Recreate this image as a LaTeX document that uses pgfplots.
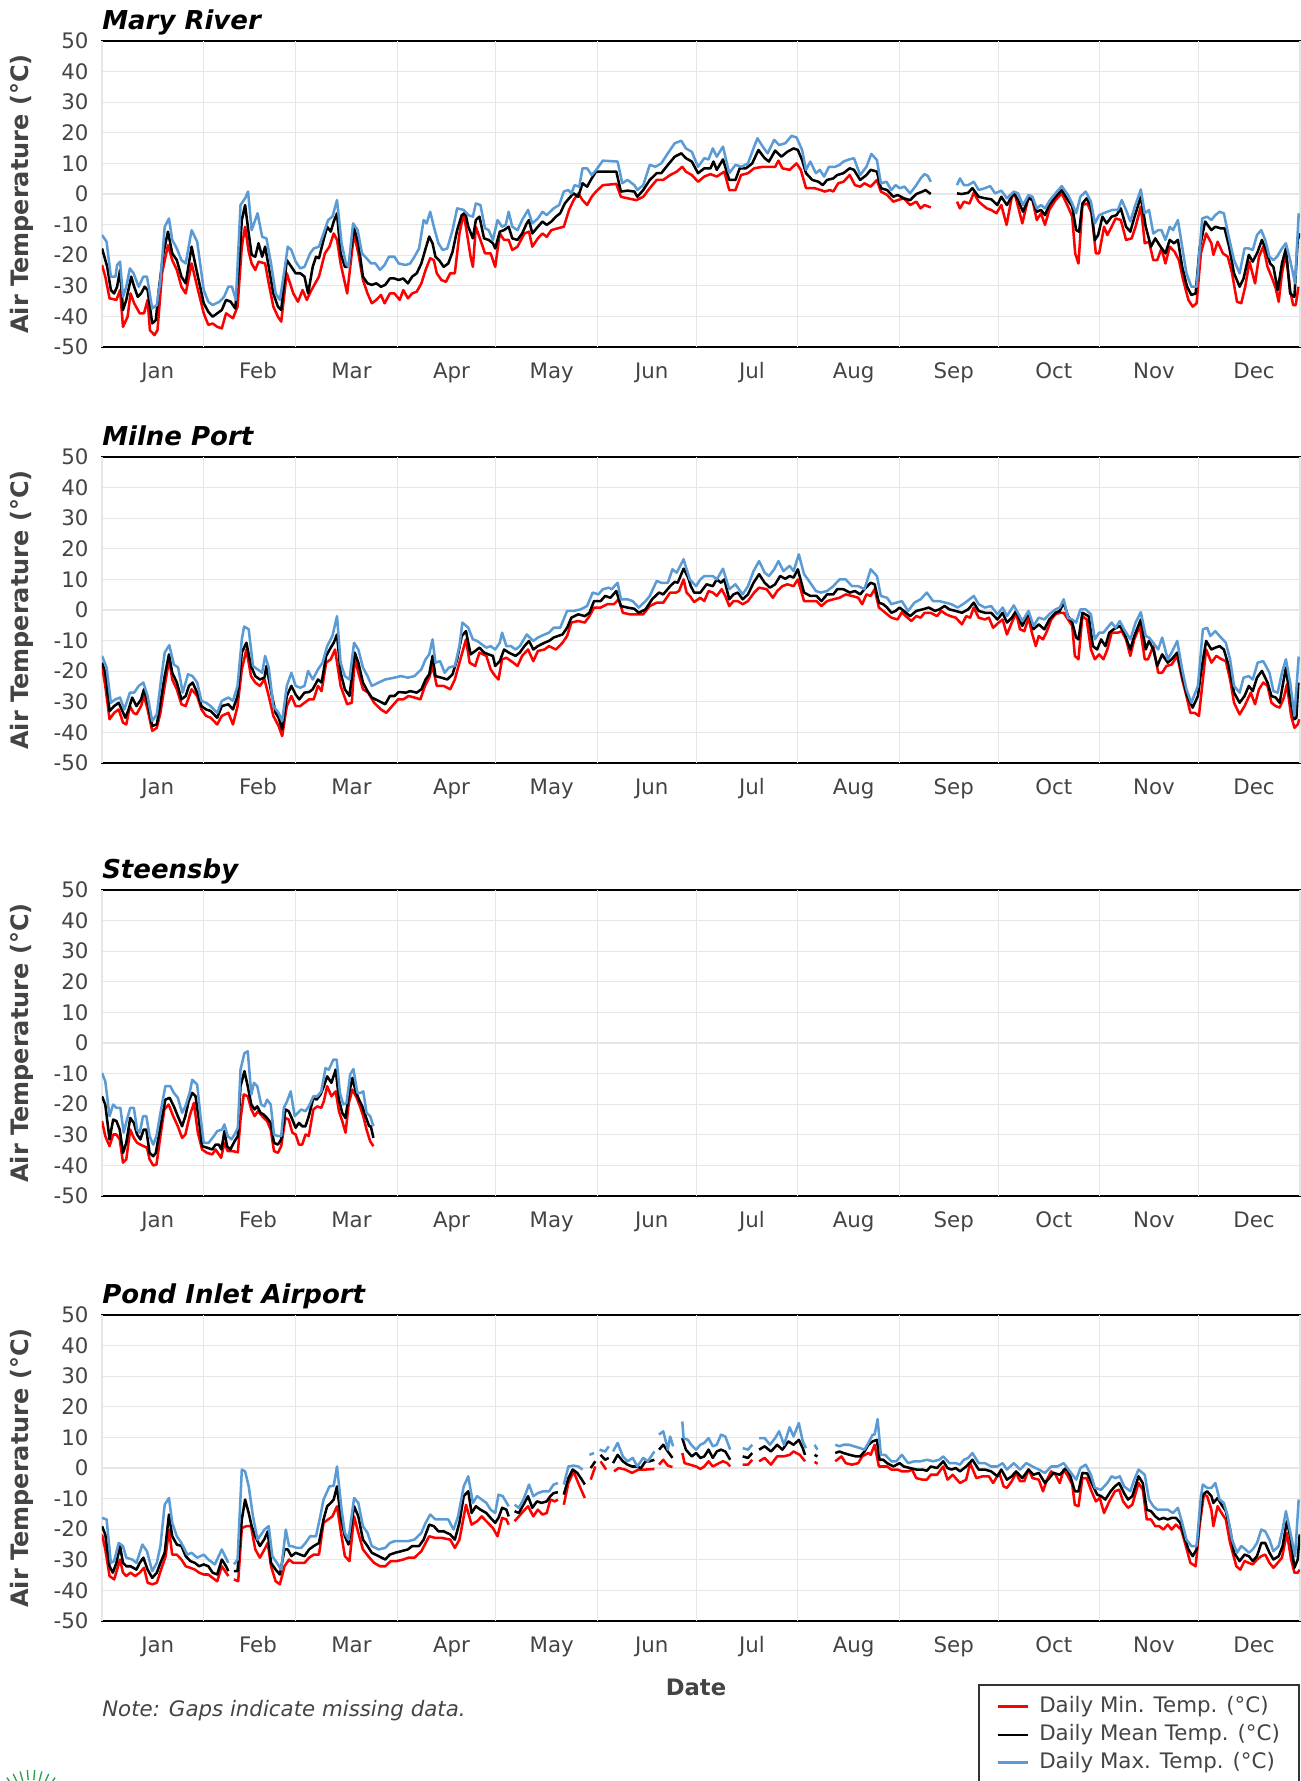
\documentclass[border=0pt]{standalone}
\usepackage{pgfplots}
\pgfplotsset{compat=1.18}
\usetikzlibrary{calc}
\usepackage{fontspec}
\setmainfont{DejaVu Sans}
\definecolor{tmin}{HTML}{FF0000}
\definecolor{tmax}{HTML}{5B9BD5}
\definecolor{lab}{HTML}{444444}
\definecolor{gridc}{HTML}{E6E6E6}
\definecolor{logo}{HTML}{2E9D4A}
\newcommand{\ticksize}{\fontsize{16pt}{19pt}\selectfont}
\newcommand{\titlesize}{\fontsize{19.5pt}{23pt}\selectfont\bfseries\itshape}
\pgfplotsset{
  panel/.style={
    anchor=north west, scale only axis, width=898.5pt, height=229.5pt,
    xmin=0, xmax=365, ymin=-50, ymax=50,
    axis line style={black, line width=1.1pt},
    ytick={-50,-40,...,50},
    yticklabels={-50,-40,-30,-20,-10,0,10,20,30,40,50},
    ymajorgrids, major grid style={draw=gridc, line width=0.8pt},
    ytick style={draw=none},
    yticklabel style={anchor=east, inner sep=0pt, xshift=-10pt, font=\ticksize, text=lab},
    xtick={17,47.5,76,106.5,137,167.5,198,229,259.5,290,320.5,351},
    xticklabels={Jan,Feb,Mar,Apr,May,Jun,Jul,Aug,Sep,Oct,Nov,Dec},
    xtick style={draw=none},
    xtick pos=bottom,
    xticklabel style={anchor=base, inner sep=0pt, yshift=-23.25pt, font=\ticksize, text=lab},
    extra x ticks={0,31,59,90,120,151,181,212,243,273,304,334,365},
    extra x tick labels={,,,,,,,,,,,,},
    extra x tick style={grid=major, tick align=outside, major tick length=3.3pt, tick style={draw=black, line width=1pt}},
    ylabel={Air Temperature (°C)},
    ylabel style={at={(axis description cs:-0.0668,0.5)}, anchor=center, font=\fontsize{18pt}{21pt}\selectfont\bfseries, text=lab},
    every axis title shift=0pt,
    title style={at={(axis description cs:0,1)}, anchor=base west, yshift=8.5pt, inner sep=0pt, font=\titlesize},
    unbounded coords=jump,
    every axis plot/.append style={line width=1.9pt, line join=round, mark=none},
  }
}
\begin{document}
\begin{tikzpicture}
\useasboundingbox (0,0) rectangle (975.75pt,-1335.75pt);
% ---------------- Mary River ----------------
\begin{axis}[panel, at={(76.5pt,-30.75pt)}, title={Mary River}]
\addplot[tmin] coordinates {(0,-23.2)(1,-27)(2.3,-34.1)(4.4,-34.6)(5.5,-31.4)(6.4,-43.4)(7.8,-40.1)(8.7,-32.5)(9.8,-35.7)(11.5,-39)(12.8,-39)(13.9,-34.6)(14.6,-44.5)(16,-46.1)(16.9,-44.5)(18.3,-25.9)(20.1,-16.7)(21.4,-21.6)(22.8,-24.8)(24.2,-30.3)(25.5,-32.5)(27.3,-22.7)(29,-30.3)(31,-39)(32.4,-42.8)(33.7,-42.3)(35.1,-43.4)(36.5,-43.9)(37.8,-39)(39.9,-40.6)(41.3,-36.8)(42.6,-17.2)(43.6,-10.7)(44.7,-18.9)(45.6,-22.7)(46.7,-24.8)(47.7,-22.1)(49.7,-22.7)(50.8,-29.2)(52.2,-36.8)(53.6,-40.1)(54.6,-41.7)(56.3,-25.9)(58.3,-32.5)(59.7,-35.2)(61.1,-31.4)(62.4,-34.6)(63.8,-31.4)(66.1,-27)(67.9,-19.4)(69.3,-17.2)(70.6,-12.9)(71.6,-15)(72.7,-22.7)(74.7,-32.5)(76.8,-12.9)(78.1,-19.4)(79.5,-28.1)(80.9,-32.5)(82.2,-35.7)(83.6,-34.6)(85,-33)(86.1,-35.7)(87.7,-32.5)(89.1,-32.5)(90.7,-34.6)(91.8,-31.4)(93.2,-34.1)(94.5,-32.5)(95.9,-31.9)(97.3,-29.2)(98.6,-24.8)(100,-21)(101.1,-21.6)(102,-25.9)(103.4,-28.1)(104.8,-28.7)(106.1,-25.9)(107.5,-25.9)(108.9,-12.9)(110.2,-6.3)(111.2,-12.9)(112.3,-20.5)(113,-23.8)(113.9,-10.7)(115.3,-15)(116.7,-19.4)(118.4,-19.4)(119.8,-23.8)(121.2,-12.9)(122.5,-15)(123.9,-15)(125,-18.3)(126.6,-17.2)(128.7,-12.9)(130.1,-12.3)(131.1,-17.2)(132.8,-14.5)(134.2,-12.9)(135.5,-14)(136.9,-11.8)(138.9,-11.2)(140.7,-10.7)(142.3,-5.2)(143.7,-2)(145.1,0.2)(146.4,-2)(147.8,-3.6)(149.2,-0.9)(150.5,0.8)(152.6,2.9)(156.7,3.3)(158.1,-0.9)(160.1,-1.4)(162.8,-2)(164.9,-0.9)(166.9,1.9)(169,4.6)(171,4.6)(173.1,6.2)(175.1,7.3)(176.8,8.9)(177.9,7.3)(179.7,6.2)(181.6,4)(183.5,5.7)(185.4,6.5)(187.3,5.7)(189.6,7.3)(191.1,1.3)(193,1.3)(194.7,6.2)(196.8,6.8)(198.7,8.4)(201.3,8.9)(203.2,8.9)(205.1,8.9)(206.1,10.9)(207.3,8.4)(209.5,7.9)(211.6,10)(212.9,7.9)(214.5,1.9)(217.1,1.9)(219,1.3)(220.2,0.8)(221.8,1.3)(222.8,0.8)(224.3,3.5)(225.9,4)(227.8,6.2)(229.4,2.9)(231,2.4)(232.3,3.5)(234.2,2.4)(236.1,4.6)(237.3,0.8)(239.2,-0.3)(241.1,-2.5)(242.4,-2)(244.3,-1.4)(246.2,-3.6)(248.1,-2.5)(249.4,-4.7)(250.6,-3.6)(252.5,-4.4)(256,nan)(260.5,-2.5)(261.4,-4.7)(262.6,-2.5)(264.3,-3.1)(265.6,0.4)(267.1,-2.5)(268.3,-3.6)(269.6,-4.7)(270.9,-5.2)(272.5,-6.3)(274,-3.6)(275.6,-10.1)(277.2,-0.9)(278.2,-0.3)(280.4,-9.6)(282.3,-0.9)(283.5,-2)(284.8,-8.5)(286.1,-6.3)(287.3,-10.1)(288.6,-5.2)(290.5,-2)(292.4,0.2)(294.3,-4.1)(295.6,-7.4)(296.5,-19.4)(297.5,-22.7)(298.7,-3.6)(300.2,-3.1)(301.5,-6.3)(302.8,-19.4)(303.8,-19.4)(305.3,-10.7)(306.3,-13.4)(307.6,-10.7)(308.8,-8)(310.4,-8.5)(312,-15)(313.7,-14.5)(314.9,-10.7)(316.5,-4.1)(317.7,-16.1)(319,-15.6)(320.3,-21.6)(321.5,-21.6)(322.8,-17.8)(324,-22.7)(325.3,-17.2)(326.8,-18.9)(328.1,-21.6)(329.4,-28.1)(331,-34.6)(332.3,-36.8)(333.5,-35.7)(334.8,-19.4)(336.4,-12.9)(338,-16.1)(338.6,-19.9)(339.9,-15.6)(341.5,-19.4)(343,-20.5)(344.3,-25.9)(345.8,-35.2)(347.1,-35.7)(348.3,-30.3)(349.6,-22.1)(351.3,-29.2)(352.5,-20.5)(353.8,-17.2)(355.1,-23.8)(356.3,-27)(357.6,-30.8)(358.5,-35.2)(359.5,-25.9)(360.7,-19.4)(362,-31.4)(362.9,-36.3)(363.7,-36.3)(364.5,-30.3)};
\addplot[black] coordinates {(0,-17.8)(1.6,-23.8)(2.7,-31.4)(3.7,-32.5)(4.6,-30.3)(5.5,-24.8)(6.4,-37.9)(7.4,-34.6)(8.9,-27)(9.8,-30.3)(10.9,-33.6)(11.9,-32.5)(13,-30.3)(13.9,-31.4)(15.3,-42.3)(16.4,-41.2)(17.3,-31.4)(18.7,-19.4)(20.1,-12.3)(21.4,-19.4)(22.8,-21.6)(24.2,-27)(25.5,-29.2)(27.3,-17.2)(29,-25.9)(31,-35.7)(32.4,-38.5)(33.7,-40.1)(35.1,-39)(36.5,-37.9)(37.8,-34.6)(39.2,-35.2)(40.6,-37.4)(41.7,-23.8)(42.6,-8.5)(43.6,-3.6)(44.7,-12.9)(45.6,-19.9)(46.7,-20.5)(47.7,-16.1)(48.8,-20.5)(49.7,-17.2)(50.8,-23.8)(52.2,-32.5)(53.6,-36.8)(54.6,-37.9)(56.3,-21.6)(57.7,-23.8)(59,-25.9)(60.4,-25.9)(61.7,-27)(62.8,-32.5)(64.2,-23.8)(65.2,-20.5)(66.1,-21)(67.5,-15)(68.6,-10.7)(69.7,-12.3)(70.6,-9)(71.6,-6.3)(72.7,-19.4)(74,-23.8)(75.1,-23.8)(76.8,-11.2)(78.1,-16.1)(79.5,-27)(80.9,-29.2)(82.2,-29.7)(83.6,-29.2)(85,-30.3)(86.3,-29.7)(87.7,-27.6)(89.1,-27.6)(90.4,-28.1)(91.8,-27.6)(93.2,-29.2)(94.5,-27)(95.9,-25.9)(97.3,-22.7)(98.6,-17.8)(99.7,-13.9)(100.7,-16.1)(101.6,-20.5)(102.7,-21.6)(104.1,-23.8)(105.5,-22.7)(106.8,-18.9)(108.2,-11.8)(109.6,-6.9)(110.7,-6.3)(111.6,-10.7)(113,-14.5)(113.9,-8.5)(115,-7.4)(116.4,-14.5)(117.8,-15)(119.1,-16.1)(119.8,-17.8)(121.2,-12.3)(122.5,-11.8)(123.9,-10.7)(125,-14.5)(126.6,-15)(128,-12.9)(129.4,-9.6)(130.1,-8.5)(131.1,-12.9)(132.8,-10.7)(134.2,-9)(135.5,-10.1)(136.9,-9)(138.3,-7.4)(139.6,-6.3)(141,-3.1)(142.3,-1.4)(143.7,0.2)(145.1,-0.9)(146.4,3.5)(147.8,2.4)(149.2,5.1)(150.5,7.3)(152.6,7.3)(156.7,7.3)(158.1,0.8)(160.1,1.1)(162.2,0.8)(163.1,-0.9)(164.9,1.3)(166.9,4.6)(169,6.8)(170.4,6.8)(172.4,9.5)(174.5,12.2)(176.5,13.3)(177.9,11.7)(179.7,10.6)(181.6,6.8)(183.5,8.4)(185.4,8.4)(186.3,10.6)(187.3,7.9)(189.2,11.3)(191.1,4.6)(193,4.6)(194.3,8.4)(196.2,8.4)(198.1,10)(200,14.4)(201.9,11.7)(203.2,10.6)(205.1,14.2)(207,12.2)(208.8,13.8)(210.7,14.9)(212,14.4)(213.3,11.1)(214.5,6.8)(216.4,4.6)(218.3,4)(219.6,2.9)(220.9,4.6)(222.8,5.1)(224,6.2)(225.9,6.8)(227.8,8.4)(229.1,7.9)(231,4.6)(232.9,6.2)(234.2,7.9)(236.1,7.3)(237.3,1.9)(239.2,1.3)(241.1,-0.9)(242.4,-0.3)(244.3,-1.4)(246.2,-2)(248.1,0)(250,0.8)(250.9,1.3)(252.5,0)(256,nan)(260.5,0.2)(262,0)(263.9,0.4)(265.2,1.9)(267.1,-0.9)(269,-1.4)(270.9,-1.7)(272.8,-3.6)(274,-0.9)(275.7,-3.6)(277.8,0.4)(279.1,-2)(280.6,-5.8)(282.3,-1.4)(283.5,-2)(284.8,-5.8)(286.1,-5.2)(287.3,-6.9)(288.6,-3.6)(290.5,-0.9)(292.4,1.3)(294.3,-2)(295.6,-4.1)(296.8,-11.8)(297.7,-12.3)(298.7,-3.1)(300,-1.4)(301.3,-4.1)(302.5,-15)(303.5,-13.4)(304.8,-7.4)(306.1,-9.6)(307.6,-7.4)(309.1,-6.9)(310.4,-4.7)(312,-10.7)(313.3,-12.3)(314.6,-7.4)(316.5,-0.9)(318,-10.7)(319.6,-17.2)(320.9,-14.5)(322.5,-17.2)(324,-19.4)(325.3,-15)(326.6,-16.1)(327.8,-15)(329.1,-23.8)(330.6,-30.3)(331.9,-33)(333.2,-32.5)(334.4,-17.8)(336.1,-9)(338,-11.8)(339.2,-10.7)(340.8,-11.2)(342,-11.2)(343.4,-17.2)(344.9,-25.9)(346.6,-30.3)(347.8,-27.6)(349.4,-19.9)(350.6,-22.1)(352.1,-18.9)(353.4,-15)(354.6,-18.3)(355.9,-22.7)(356.9,-23.8)(358.2,-31.4)(359.5,-22.7)(360.7,-17.8)(362,-32.5)(363.3,-33.6)(364.3,-15)(365,-12.9)};
\addplot[tmax] coordinates {(0,-13.4)(1.4,-15.6)(2.7,-27)(4.1,-27)(4.6,-23.2)(5.5,-22.1)(6.4,-33.6)(7.4,-30.3)(8.5,-24.3)(9.6,-25.9)(11.2,-30.3)(12.6,-27)(13.7,-27)(15.3,-37.4)(16.7,-36.3)(17.8,-28.1)(19.1,-10.7)(20.4,-8)(21.4,-15)(22.8,-17.8)(24.2,-21.6)(25.5,-22.7)(27.3,-11.8)(29,-15.6)(31,-31.4)(32.4,-35.2)(33.7,-36.3)(35.8,-35.2)(37.2,-33.6)(38.5,-30.3)(39.6,-30.3)(40.8,-34.6)(42.2,-3.6)(43.6,-1.4)(44.5,0.8)(45.6,-11.8)(47.4,-6.3)(48.8,-14)(50.1,-14.5)(51.5,-22.7)(52.9,-32.5)(54.2,-34.6)(55.6,-24.8)(56.6,-17.2)(57.7,-18.3)(59,-22.1)(60.4,-24.3)(61.7,-23.8)(63.4,-19.4)(64.5,-17.8)(66.1,-17.2)(67.5,-12.9)(68.9,-8.5)(70.2,-7.4)(71.6,-2)(73,-16.1)(74.3,-22.7)(75.1,-23.8)(76.5,-9.6)(77.9,-11.8)(79.2,-19.4)(80.6,-21)(82,-22.7)(83.3,-22.7)(84.7,-24.8)(86.1,-23.2)(87.4,-20.5)(89.1,-20.5)(90.4,-22.7)(92.5,-23.2)(93.9,-22.7)(95.2,-20.5)(96.6,-17.8)(98,-8.5)(98.9,-9.6)(100,-5.8)(101.1,-10.7)(102.5,-16.1)(103.8,-18.3)(105.2,-17.8)(106.8,-11.8)(108.2,-4.7)(110.2,-5.2)(111.6,-6.9)(113,-7.4)(113.9,-3.1)(115.3,-3.6)(116.7,-11.2)(117.8,-11.8)(119.1,-15)(120.5,-8.5)(121.9,-10.7)(123,-10.1)(123.9,-5.8)(125,-10.7)(126.6,-11.8)(128,-8.5)(129.8,-5.2)(131.1,-9.6)(132.8,-8)(134.2,-5.8)(135.5,-6.9)(137.6,-4.7)(139.3,-3.6)(140.7,0.8)(142.1,1.3)(143,0.2)(144,2.9)(145.4,2.4)(146.4,8.4)(147.8,8.4)(149.2,6.2)(150.5,7.8)(152.6,10.9)(157.1,10.6)(158.5,3.5)(160.1,4.6)(162.2,2.9)(163.1,1.3)(164.9,2.9)(166.9,9.5)(168.6,8.9)(170.4,10)(172.4,13.3)(174.5,16.6)(176.5,17.4)(177.9,14.9)(179.7,13.8)(181.6,8.9)(183.5,11.7)(184.8,11.3)(186.1,14.9)(187.3,12.2)(189.2,15.5)(191.1,6.8)(193,9.5)(194.9,8.9)(196.8,10)(198.7,15.5)(199.7,18.2)(201.3,15.5)(202.8,13.3)(204.8,17.7)(206.3,16)(208.2,16.6)(210.1,19)(211.6,18.5)(213.3,14.4)(214.5,7.9)(215.8,10.6)(217.5,6.8)(218.7,7.9)(220,5.7)(221.5,8.9)(223.4,8.9)(224.7,9.5)(225.9,10.6)(227.6,11.3)(229.1,11.7)(231,6.2)(232.9,8.9)(234.4,13.1)(236.1,11.1)(237.3,3.5)(239,4)(240.5,1.3)(241.8,2.9)(243,1.9)(244.5,2.4)(246.2,0.2)(248.1,2.9)(249.4,5.1)(250.6,6.5)(251.6,5.9)(252.5,4)(256,nan)(260.5,2.9)(261.4,5.1)(262.6,2.9)(263.9,2.9)(265.6,4)(267.1,1.3)(269,1.9)(270.6,2.6)(272.1,0.2)(274,1.1)(275.7,-1.4)(277.8,0.8)(279.1,0.2)(280.6,-3.6)(282.3,-0.3)(283.5,-0.9)(284.8,-4.7)(286.1,-3.6)(287.3,-4.7)(288.8,-2)(290.5,0.2)(292.4,2.6)(294.3,-0.3)(295.6,-3.1)(296.8,-6.3)(298.1,-0.9)(299.7,0.8)(301.3,-2.5)(302.5,-9.6)(303.8,-6.9)(305.1,-6.3)(306.3,-5.8)(307.8,-5.2)(309.5,-5.2)(310.7,-2)(312,-5.2)(313.3,-9)(314.5,-4.7)(316.5,1.5)(317.7,-6.3)(319,-5.2)(320.3,-12.9)(321.8,-11.8)(322.8,-11.8)(324,-15)(325.3,-10.7)(326.3,-11.8)(327.8,-8.5)(329.1,-17.2)(330.4,-25.9)(331.9,-30.3)(333.5,-30.3)(335.2,-8)(336.7,-7.4)(338,-8.5)(339.2,-6.9)(340.5,-5.8)(341.8,-6.3)(343.3,-14)(344.9,-21.6)(346.6,-25.9)(348.1,-17.8)(349.4,-17.8)(350.6,-18.3)(351.9,-13.4)(353.2,-11.8)(354.4,-15)(355.7,-20.5)(356.9,-21.6)(358,-20.5)(359.5,-17.8)(360.7,-16.1)(362,-21.6)(363.5,-29.2)(364.6,-6.3)};
\end{axis}
% ---------------- Milne Port ----------------
\begin{axis}[panel, at={(76.5pt,-342.75pt)}, title={Milne Port}]
\addplot[tmin] coordinates {(0,-18.3)(1,-24.8)(2.3,-35.7)(3.7,-33.6)(5.1,-32.5)(6.4,-36.8)(7.4,-37.4)(8.5,-31.4)(9.6,-33.6)(10.5,-34.1)(11.9,-31.4)(12.8,-28.1)(13.9,-32.5)(15.3,-39.5)(16.7,-38.5)(17.8,-33.6)(19.1,-24.8)(20.5,-16.1)(21.4,-22.7)(22.8,-25.9)(24.2,-30.8)(25.5,-31.4)(27.3,-25.9)(29,-28.1)(30.3,-32.5)(31.7,-34.6)(33.1,-35.2)(35.1,-37.4)(36.5,-34.6)(38.5,-33.6)(39.9,-37.4)(41.3,-31.4)(42.6,-19.4)(44,-12.9)(45.4,-21.6)(46.7,-23.7)(48.1,-24.8)(49.5,-22.7)(50.8,-28.1)(52.2,-34.6)(53.8,-37.9)(54.9,-41.2)(56.3,-31.4)(57.7,-28.1)(59,-31.4)(60.4,-31.4)(61.7,-30.3)(63.1,-29.2)(64.5,-29.2)(65.8,-24.8)(66.9,-26.5)(68.3,-17.2)(69.7,-16.1)(71,-12.9)(72.7,-24.8)(74.7,-30.8)(76.1,-30.3)(77,-15.6)(78.1,-20.5)(79.5,-25.9)(81.1,-27)(82.9,-30.3)(85,-32.5)(86.6,-33.6)(88.4,-31.4)(90.2,-29.2)(91.8,-29.2)(93.4,-28.1)(95.2,-28.6)(97,-29.2)(98.4,-24.8)(99.7,-22.1)(100.7,-18.3)(102,-24.8)(104.1,-24.8)(106.1,-25.9)(107.5,-22.7)(108.9,-17.2)(110.9,-9.6)(112,-17.2)(113.7,-18.3)(115,-13.9)(117.1,-15)(118.4,-19.4)(119.8,-21.6)(120.8,-22.7)(121.9,-16.1)(123.2,-15.6)(125.3,-17.2)(126.6,-18.3)(128,-15)(129.8,-12.9)(131.4,-16.7)(132.8,-13.4)(134.8,-12.9)(136.2,-11.8)(138.3,-12.9)(140.3,-10.7)(141.7,-8.5)(143,-4.1)(145.1,-3.6)(147.1,-4.1)(148.5,-2)(149.9,0.8)(151.9,0.8)(154,1.9)(156,1.9)(157.4,3.5)(158.7,-0.9)(160.8,-1.4)(162.8,-1.4)(164.9,-1.4)(166.9,1.3)(169,2.4)(171,2.4)(173.1,5.7)(174.9,5.7)(175.8,6.2)(177.2,10)(178.1,5.7)(179.1,4.6)(180.4,2.6)(182.3,4)(183.5,2.9)(184.8,6.2)(186.1,5.7)(187.3,4.6)(188.8,6.8)(189.9,4.6)(191.1,1.3)(192.4,2.9)(193.7,2.9)(195.2,1.9)(196.8,2.9)(198.7,5.7)(200.2,7.3)(202.5,6.8)(204.4,4)(205.7,6.2)(207.3,7.8)(208.8,8.4)(210.7,7.8)(212,10)(213.9,2.9)(215.8,2.9)(217.7,2.9)(219.2,1.3)(220.9,2.9)(222.8,3.5)(224.7,4)(226.6,5.1)(228.5,4.6)(230.4,4)(231.6,1.9)(232.9,5.1)(234.2,4.6)(235.4,6.8)(236.7,0.8)(238,-0.3)(239.2,-1.4)(240.5,-2.5)(242.4,-3.1)(243.7,-0.7)(244.9,-2)(246.6,-3.6)(248.1,-2)(249.4,-2.5)(250.6,-0.9)(252.5,-0.9)(254.4,-2)(255.7,-0.3)(257.2,-1.4)(258.5,-2)(260.1,-2.5)(262,-4.7)(263.3,-2)(264.5,-2.5)(265.6,0.8)(267.1,-2.5)(269,-3.1)(270.2,-2.5)(271.5,-5.8)(273.2,-4.1)(274.4,-3.1)(275.7,-8)(277.2,-4.1)(278.5,-0.9)(279.7,-6.3)(281,-6.9)(282.3,-2.5)(283.3,-7.4)(284.5,-11.8)(285.4,-8.5)(286.7,-9.6)(287.9,-6.9)(289.2,-3.1)(290.5,-1.4)(291.8,-0.9)(293,-0.9)(294.3,-3.1)(295.6,-5.2)(296.4,-15)(297.5,-16.1)(298.7,-2)(300,-3.1)(301.3,-12.9)(302.5,-16.1)(303.8,-14.5)(305.1,-16.1)(306.3,-12.9)(307.6,-7.4)(309.5,-7.4)(310.7,-6.9)(312,-9.6)(313.3,-15)(314.5,-9.6)(316.2,-5.2)(317.7,-16.1)(318.7,-16.1)(320.3,-11.8)(321.8,-20.5)(323,-20.5)(324.3,-18.3)(325.9,-17.8)(327.6,-15)(329.1,-22.7)(330.4,-28.1)(331.6,-33.6)(332.9,-33.6)(334.2,-34.6)(335.4,-22.7)(336.4,-12.9)(338,-17.2)(339.5,-15)(341.1,-16.1)(342.4,-16.7)(343.7,-22.7)(344.9,-30.3)(346.6,-34.1)(348.1,-31.4)(350,-27)(351.3,-30.8)(352.5,-25.9)(353.8,-23.7)(355.1,-24.8)(356.3,-30.3)(357.6,-31.4)(358.8,-31.9)(360.1,-28.6)(361,-24.3)(362.3,-34.6)(363.3,-38.5)(364.3,-37.4)(364.8,-35.7)};
\addplot[black] coordinates {(0,-17.2)(1,-20.5)(2.3,-33)(3.7,-31.4)(5.1,-30.3)(6,-32.5)(7.1,-35.2)(8.1,-32.5)(9.2,-28.6)(10.5,-31.4)(11.9,-29.2)(12.8,-25.9)(13.9,-30.3)(15.3,-37.9)(16.7,-37.4)(17.8,-30.3)(19.1,-21.6)(20.4,-14.5)(21.4,-20.5)(22.8,-23.7)(24.2,-29.2)(25.5,-28.1)(26.5,-24.8)(27.6,-23.7)(29,-27)(30.3,-31.4)(31.7,-32.5)(33.1,-33)(35.1,-35.2)(36.5,-31.4)(38.5,-30.8)(39.9,-32.5)(41.3,-28.1)(42.6,-13.9)(44,-10.7)(45.4,-18.3)(46.7,-21.6)(48.1,-22.7)(49.5,-22.1)(50.1,-18.3)(51.5,-26.5)(52.9,-33.6)(53.8,-35.2)(54.9,-39)(56.3,-28.1)(57.7,-24.8)(59,-27.6)(60.1,-29.2)(61.7,-27)(63.1,-26.8)(64.2,-25.9)(65.8,-22.7)(66.9,-23.7)(68.3,-15)(69.7,-12.3)(70.6,-10.7)(71.6,-8)(72.7,-20.5)(74,-25.9)(75.4,-28.1)(77,-13.9)(78.1,-17.2)(79.5,-23.7)(80.9,-26.5)(82.2,-28.6)(84.3,-29.7)(86.3,-30.8)(87.7,-28.1)(89.1,-28.1)(90.4,-26.8)(92.5,-27)(93.9,-26.5)(95.9,-27)(97.3,-25.9)(98.6,-22.7)(99.7,-21)(100.7,-15)(101.6,-21.6)(103.4,-22.1)(105.2,-22.7)(106.8,-21)(108.2,-16.1)(109.6,-8.5)(110.9,-6.9)(112.3,-14.5)(113.7,-13.4)(115,-12.3)(116.4,-13.9)(117.8,-14.5)(119.1,-15)(119.8,-18.3)(121.2,-16.7)(122.5,-12.9)(123.9,-13.9)(126,-15)(127.3,-13.9)(128.7,-11.8)(130.1,-10.1)(131.4,-12.9)(132.8,-11.8)(134.8,-10.7)(136.2,-10.1)(137.6,-9)(138.9,-8.5)(140.3,-8)(141.7,-5.8)(143,-2.5)(145.1,-1.4)(147.1,-2)(148.5,-0.9)(149.9,2.9)(151.9,2.9)(153.3,4.6)(154.9,4)(156.7,6.2)(158.1,1.3)(160.1,0.8)(162.2,0.4)(163.5,-0.9)(165.6,0.2)(167.6,3.5)(169.7,5.7)(171,5.1)(173.1,7.8)(174.5,9.2)(175.4,8.9)(177.2,13.5)(178.6,10.6)(179.4,7.8)(180.4,5.7)(182.3,5.7)(184.2,8.4)(186.1,7.8)(187.3,10)(188.6,8.9)(189.6,10)(191.1,3.5)(192.4,5.1)(193.7,5.7)(195.2,3.5)(196.8,5.1)(198.5,8.9)(200.2,11.7)(201.9,8.9)(203.5,7.3)(205.1,8.4)(206.6,11.1)(208.2,10.2)(209.5,11.1)(210.7,10.6)(212,13.3)(213.9,5.7)(215.8,4.6)(217.7,4.6)(219.2,2.9)(220.9,5.1)(222.8,5.1)(224,6.8)(225.9,6.8)(227.8,5.7)(229.4,6.2)(231,5.1)(232.3,6.8)(234.2,8.9)(235.4,8.4)(236.7,2.4)(238,1.9)(239.2,0.8)(240.5,-0.9)(241.8,-0.3)(243,0.8)(244.3,-0.3)(246.2,-2)(248.1,-0.3)(250,0.2)(251.9,0.8)(253.8,-0.3)(255.1,0.2)(256.7,1.3)(258.2,0.2)(260.1,-0.3)(262,-0.9)(263.9,0.2)(265.6,2.4)(267.1,-0.3)(269,-0.9)(270.9,-0.9)(272.8,-3.1)(274.4,-0.9)(275.7,-4.1)(277.2,-2.5)(278.5,-0.3)(280.4,-5.2)(282.3,-0.9)(283.8,-6.3)(285.4,-4.7)(287.1,-6.3)(288.6,-3.1)(290.5,-0.9)(291.8,-0.3)(293,2.4)(294.3,-2)(295.6,-4.1)(296.8,-9)(297.5,-9.6)(298.7,-0.9)(300.6,-2)(301.9,-11.8)(303.2,-12.9)(304.4,-9.6)(305.7,-11.8)(306.9,-7.4)(308.2,-6.3)(310.1,-5.2)(311.4,-7.4)(313.3,-12.9)(314.5,-8.5)(316.5,-3.1)(318,-12.9)(319,-10.1)(320.3,-12.9)(321.5,-18.3)(323,-14.5)(324.7,-17.2)(325.9,-16.1)(327.6,-13.9)(329.1,-21.6)(330.6,-28.1)(332.3,-31.9)(333.9,-28.1)(334.8,-20.5)(336.4,-10.1)(338,-12.9)(339.2,-12.3)(340.5,-11.8)(341.8,-12.9)(343.3,-18.3)(344.9,-27)(346.6,-30.3)(348.1,-28.1)(349.4,-24.8)(350.6,-26.5)(351.9,-22.1)(353.4,-19.9)(355.1,-23.7)(356.3,-28.1)(357.6,-28.6)(358.8,-30.3)(359.7,-24.8)(360.7,-18.8)(362,-29.2)(363.3,-35.7)(363.9,-35.2)(364.5,-23.7)};
\addplot[tmax] coordinates {(0,-15)(1.4,-18.8)(2.7,-30.3)(4.1,-29.2)(5.5,-28.6)(6.8,-32.5)(8.5,-27)(9.8,-27)(11.2,-24.8)(12.6,-23.7)(13.9,-28.1)(15.3,-36.3)(16.7,-34.1)(18,-22.7)(19.1,-13.9)(20.5,-11.5)(21.9,-17.8)(23.2,-18.8)(24.6,-27)(26.2,-21)(27.6,-21.6)(29,-23.7)(30.3,-29.7)(31.7,-30.3)(33.1,-31.4)(35.1,-33.6)(36.5,-29.7)(38.5,-28.6)(39.9,-29.7)(41.3,-24.8)(42.6,-9.6)(43.3,-5.4)(44.7,-6.3)(46,-18.3)(47.4,-19.4)(48.8,-20.5)(49.7,-15)(50.8,-18.8)(52.2,-31.4)(53.8,-33.6)(54.9,-36.3)(56.3,-24.8)(57.7,-20.5)(59,-24.8)(60.4,-25.4)(61.7,-24.8)(62.8,-19.9)(64.2,-22.7)(65.8,-19.4)(67.2,-17.2)(68.6,-11.8)(70.2,-8.5)(71.6,-2)(72.7,-17.2)(74,-21.6)(75.4,-22.7)(76.8,-10.7)(78.1,-12.9)(79.5,-18.8)(80.9,-21.6)(82.2,-24.8)(84.3,-23.7)(86.3,-22.7)(89.1,-22.1)(91.1,-21.6)(93.2,-22.1)(95.2,-21.6)(97.3,-19.4)(98.6,-16.1)(99.7,-14.5)(100.7,-9.6)(101.6,-17.2)(103,-16.7)(104.4,-20.5)(105.7,-18.8)(107.5,-18.3)(108.9,-11.8)(109.8,-4.1)(111.6,-5.8)(113,-9.6)(114.3,-10.1)(115.7,-11.2)(117.1,-12.3)(118.4,-11.8)(119.8,-12.9)(121.2,-10.7)(121.9,-7.4)(123.2,-11.8)(124.6,-11.8)(126,-12.9)(127.3,-11.8)(129.4,-8)(131.4,-10.1)(132.8,-9)(134.8,-8)(136.2,-7.4)(137.6,-5.8)(139.6,-5.8)(141.7,-0.3)(143.7,-0.3)(145.8,0.2)(147.8,1.3)(149.5,5.7)(151.2,5.1)(152.6,6.8)(154.4,7.3)(155.3,6.8)(157.1,8.9)(158.1,3.5)(160.1,3.5)(161.7,2.9)(163.5,0.8)(165.6,2.9)(166.9,4.6)(169,9.5)(170.4,8.9)(172.4,8.9)(173.8,13.3)(175.1,12.2)(177.2,16.6)(177.8,14.4)(179.1,10)(181,7.8)(182.3,10)(183.5,11.1)(186.1,11.1)(187.3,10)(189.2,13.5)(191.1,6.8)(193,8.4)(195.2,5.1)(196.8,7.8)(198.5,12.7)(200.2,16)(201.9,12.2)(203.2,11.1)(204.8,13.3)(206.1,16)(207.6,12.7)(209.5,14.4)(210.7,12.7)(212.3,18.2)(213.9,11.7)(215.4,9.5)(217.5,6.2)(219,5.7)(220.9,6.2)(222.8,7.8)(224.7,10)(226.6,10)(228.5,7.8)(230.4,7.8)(232.3,6.8)(234.2,13.3)(236.1,11.1)(237.3,4.6)(239.2,4)(240.5,1.9)(242,2.4)(243.7,2.9)(245.6,-0.3)(247.5,2.4)(249.4,3.5)(251.3,5.7)(253.2,2.9)(255.1,2.9)(257,2.4)(258.8,1.9)(260.7,0.8)(263,2.4)(265.6,4.6)(267.1,1.9)(269,0.8)(270.9,1.3)(272.8,-1.4)(274.4,0.8)(275.7,-2)(277.8,1.5)(280.4,-3.6)(282.3,-0.3)(283.8,-5.2)(285.4,-2.5)(287.1,-3.1)(288.6,-1.4)(290.5,0.2)(291.8,0.8)(293,3.5)(294.3,-2.5)(295.6,-3.1)(296.8,-4.1)(298.1,0.2)(299.7,0.2)(301.3,-1.4)(302.5,-9.6)(303.8,-7.4)(305.1,-7.4)(306.3,-5.8)(307.6,-4.1)(308.8,-5.8)(310.1,-3.6)(311.4,-6.3)(313.3,-9.6)(314.9,-4.1)(316.5,-0.7)(318,-8.5)(319,-9)(320.3,-10.7)(321.8,-12.9)(323,-9)(324.7,-16.1)(325.9,-13.9)(327.6,-10.1)(329.1,-19.4)(330.4,-25.9)(331.9,-30.3)(333.9,-24.8)(335.4,-6.3)(336.7,-5.8)(337.7,-8.5)(339.2,-6.9)(340.5,-8.5)(342.4,-10.7)(343.7,-16.1)(344.9,-24.8)(346.6,-27)(347.8,-22.1)(349.4,-21.6)(350.6,-22.7)(352.1,-17.2)(353.8,-16.7)(355.7,-20.5)(356.9,-26.5)(358.2,-27)(359.5,-20.5)(360.7,-16.1)(362,-23.7)(363.3,-34.6)(364.6,-15.2)};
\end{axis}
% ---------------- Steensby ----------------
\begin{axis}[panel, at={(76.5pt,-667.5pt)}, title={Steensby}]
\addplot[tmin] coordinates {(0,-25.5)(1,-30.4)(2.3,-33.7)(3.4,-29.9)(4.4,-29.9)(5.4,-31.5)(6.4,-39.1)(7.4,-38)(8.6,-28.3)(9.7,-31)(10.7,-32.6)(11.7,-33.2)(12.7,-33.7)(13.7,-34.2)(14.5,-38)(15.6,-40)(16.6,-39.7)(17.8,-30.4)(19,-21.7)(20.3,-20.1)(21.7,-23.9)(23.1,-27.2)(24.4,-31)(25.4,-29.9)(26.7,-23.9)(28,-19.6)(29.2,-29.3)(30.5,-34.8)(32,-35.9)(33.6,-36.4)(34.6,-34.8)(36.3,-37.5)(37.3,-32.6)(38.3,-35.3)(39.7,-35.3)(41.4,-35.7)(42.2,-25)(43.2,-16.8)(44.4,-17.4)(45.5,-21.7)(46.5,-23.9)(47.5,-22.3)(48.8,-23.9)(50.3,-25.5)(51.4,-28.3)(52.4,-35.3)(53.6,-35.9)(54.6,-33.7)(55.9,-24.5)(56.9,-25)(58,-29.3)(59,-29.9)(60,-33.2)(61,-33.2)(62,-29.9)(63,-30.4)(64.4,-21.7)(65.6,-20.7)(66.8,-21.2)(67.6,-19)(68.6,-14.1)(69.9,-17.4)(71.2,-15.8)(72.2,-22.3)(73.2,-25.5)(74.2,-29.3)(75.2,-19.6)(76.3,-15.2)(77.6,-17.9)(78.6,-20.7)(79.6,-23.9)(80.6,-28.3)(81.7,-32.1)(82.7,-33.7)};
\addplot[black] coordinates {(0,-17.4)(1,-20.1)(2.3,-31.5)(3.4,-25)(4.4,-25.5)(5.4,-28.3)(6.4,-35.9)(7.4,-32.6)(8.6,-24.5)(9.7,-26.1)(10.7,-29.9)(11.7,-31.5)(12.7,-28.3)(13.5,-28.3)(14.5,-35.9)(15.6,-37)(16.4,-35.9)(17.8,-27.2)(19.3,-18.5)(20.6,-17.9)(21.9,-20.7)(23.1,-23.9)(24.4,-27.2)(25.4,-23.9)(26.4,-19)(27.5,-16.3)(28.5,-17.4)(29.5,-25)(30.5,-33.7)(32,-34.2)(33.6,-34.8)(34.6,-33.2)(35.6,-33.2)(36.4,-34.8)(37.3,-28.8)(38.1,-33.7)(39.1,-34.8)(40.4,-32.1)(41.4,-30.4)(42.2,-14.1)(43.4,-9.2)(44.4,-14.1)(45.5,-20.1)(46.5,-21.7)(47.3,-20.7)(48.3,-22.8)(49.3,-23.4)(50.3,-24.5)(51.4,-26.1)(52.4,-32.6)(53.6,-33.2)(54.6,-31.5)(55.9,-21.7)(56.9,-22.3)(58,-25)(59,-27.7)(60,-26.1)(61,-27.2)(62,-27.2)(63,-23.9)(64.4,-17.9)(65.4,-18.5)(66.6,-16.8)(67.6,-14.1)(68.6,-10.9)(69.9,-13)(71.2,-8.7)(72.2,-18.5)(73.2,-22.8)(74.2,-24.5)(75.2,-16.8)(76.3,-11.4)(77.3,-15.8)(78.3,-18.5)(79.3,-20.7)(80.3,-23.9)(81.4,-27.2)(81.9,-27.2)(82.7,-31)};
\addplot[tmax] coordinates {(0,-9.8)(1,-12.5)(2.3,-23.9)(3.4,-20.1)(4.4,-21.2)(5.6,-21.2)(6.6,-29.3)(7.6,-25)(8.6,-21.2)(9.7,-21.2)(10.7,-28.3)(11.5,-29.3)(12.5,-23.9)(13.5,-23.9)(14.5,-30.4)(15.6,-33.2)(16.6,-30.4)(18,-21.7)(19.3,-14.1)(20.8,-14.1)(21.9,-16.3)(23.1,-17.9)(24.4,-22.8)(25.4,-20.7)(26.7,-16.3)(27.5,-12)(29,-13.6)(30,-23.9)(31,-32.6)(32.5,-32.6)(34.1,-30.4)(35.1,-28.8)(36.6,-28.3)(37.3,-26.6)(38.3,-30.4)(39.4,-31.5)(40.4,-29.9)(41.4,-27.7)(42.2,-8.7)(43.4,-3.3)(44.4,-2.7)(45.5,-16.8)(46.3,-13)(47.3,-14.1)(48.5,-20.1)(49.5,-20.7)(50.3,-18.5)(51.4,-20.1)(52.4,-29.9)(53.6,-30.4)(54.6,-30.4)(55.4,-21.2)(56.4,-19)(57.5,-15.8)(58.7,-23.9)(59.7,-22.8)(60.7,-21.7)(62,-22.3)(63,-20.7)(64.4,-17.4)(65.6,-17.4)(66.8,-15.8)(68.1,-8.2)(69.1,-8.7)(70.5,-5.4)(71.5,-5.4)(72.5,-16.3)(73.5,-20.1)(74.5,-19.6)(75.6,-10.3)(76.6,-8.5)(77.8,-16.3)(78.8,-16.3)(79.6,-15.8)(80.6,-22.8)(81.7,-23.9)(82.7,-27.2)};
\end{axis}
% ---------------- Pond Inlet Airport ----------------
\begin{axis}[panel, at={(76.5pt,-986.25pt)}, title={Pond Inlet Airport}]
\addplot[tmin] coordinates {(0,-21.7)(1,-26.6)(2.3,-35.3)(3.7,-36.4)(4.6,-33.2)(5.5,-29.9)(6.4,-34.2)(7.4,-35.3)(8.7,-34.2)(10.1,-35.3)(11.5,-34.2)(12.8,-32.6)(13.9,-37.5)(15.3,-38)(16.7,-37.5)(18,-33.2)(19.4,-28.8)(20.4,-20.1)(21.4,-28.3)(22.8,-28.3)(24.2,-29.9)(25.5,-32.1)(26.9,-32.6)(28.3,-33.2)(29.6,-34.2)(31,-34.8)(32.4,-34.8)(33.7,-35.9)(35.1,-37)(36.5,-32.1)(38.5,-35.3)(39.4,nan)(40.2,-36.4)(41.5,-37)(42.6,-19.6)(44,-19)(45.4,-19)(46.7,-26.6)(48.1,-29.3)(49.5,-26.6)(50.5,-24.5)(51.5,-32.1)(52.9,-37)(54.2,-38)(55.6,-32.1)(57,-29.9)(58.3,-31)(59.7,-31)(61.7,-31)(63.1,-29.3)(64.5,-28.3)(66.1,-28.3)(67.5,-17.9)(68.9,-16.8)(70.2,-15.8)(71.6,-12.5)(73,-22.3)(74,-28.8)(75.4,-30.4)(76.8,-15.8)(78.1,-21.2)(79.5,-26.6)(81.1,-28.8)(82.9,-31)(84.7,-32.1)(86.3,-32.1)(88,-30.4)(89.8,-30.4)(91.8,-29.9)(93.4,-29.3)(95.2,-29.3)(97.3,-27.2)(98.6,-24.5)(99.7,-22.3)(101.4,-22.8)(103.4,-22.8)(106.1,-23.4)(107.5,-26.1)(108.9,-23.4)(110.9,-12)(112.6,-18.5)(114.3,-17.4)(115.7,-15.8)(117.1,-17.4)(119.1,-19.6)(120.5,-22.3)(121.9,-16.3)(123.2,-16.8)(123.9,-18.5)(124.8,nan)(125.7,-17.4)(127,-15.8)(128.4,-14.1)(129.8,-12.5)(131.4,-15.8)(132.8,-13.6)(134.2,-15.2)(135.5,-14.7)(136.6,-10.3)(138,-10.9)(138.9,-10.3)(139.8,nan)(140.7,-12)(142.1,-4.9)(143.7,-1.1)(145.1,-4.9)(147.1,-9.8)(148,nan)(148.9,-3.8)(150.3,0.5)(151.1,nan)(151.9,2.2)(153.6,-0.5)(154.8,nan)(156,-1.1)(157.4,0)(159.4,-0.5)(161.5,-1.6)(163.5,-0.5)(165.6,-0.5)(168.3,-0.3)(169,nan)(169.7,1.1)(171,2.7)(172.4,0.8)(173.8,0.3)(175.3,nan)(176.8,4.9)(177.5,1.6)(179.1,1.1)(181,0.5)(182.3,-0.3)(183.5,0.5)(184.8,2.2)(186.1,0.5)(188,1.6)(189.2,2.2)(190.5,1.6)(191.4,0.5)(193.3,nan)(195.2,1.1)(196.8,1.1)(198.1,2.7)(199.1,nan)(200.2,2.2)(201.9,3.3)(203.8,1.1)(205.7,3.8)(207.6,3.8)(209.5,4.3)(210.7,5.4)(212.6,4.3)(214.2,2.2)(215.6,nan)(217.1,2)(218,1.4)(220.5,nan)(223.4,2.2)(225.3,3.8)(226.6,1.6)(228.5,1.1)(230.4,1.6)(231.6,3.8)(233.5,4.9)(234.2,4.3)(235.4,7.6)(236.7,0.5)(238,0.5)(239.2,0.5)(240.5,-0.5)(242.4,-0.5)(243.7,-1.1)(245.6,-1.1)(246.8,-0.5)(248.1,-3.3)(250,-3.8)(251.3,-3.8)(252.5,-2.2)(254.4,-2.2)(256.3,0.5)(257.6,-3.8)(259.2,-2.2)(261.4,-4.9)(263.3,-3.8)(264.5,1.6)(266.4,-3.3)(268.3,-2.7)(270.2,-2.7)(271.5,-4.9)(273.4,-1.6)(274.7,-6)(275.7,-6.5)(277.2,-4.3)(278.5,-1.6)(279.7,-4.3)(281,-4.3)(282.3,-0.5)(283.5,-3.3)(285.4,-3.8)(286.7,-7.6)(287.9,-3.8)(289.2,-1.1)(290.5,-2.2)(291.8,-4.9)(293,-0.5)(294.3,-2.7)(295.6,-5.4)(296.4,-12)(297.5,-12.5)(298.7,-3.3)(300,-3.3)(301.3,-7.1)(302.8,-10.9)(304,-9.8)(305.3,-14.7)(306.9,-10.9)(308.6,-7.6)(309.9,-7.1)(311.1,-10.9)(312.6,-13)(313.9,-12)(315.8,-4.9)(317.1,-7.1)(318.3,-16.8)(319.6,-16.8)(320.9,-19)(322.1,-19)(323.4,-20.1)(324.7,-18.5)(325.9,-20.1)(327.2,-18.5)(328.8,-20.1)(330.1,-25)(331.6,-31)(333.2,-32.1)(334.4,-19)(335.7,-8.7)(336.7,-9.2)(338,-13.6)(338.6,-19)(339.9,-12.5)(341.1,-14.7)(342.4,-16.8)(343.7,-24.5)(345.6,-32.1)(346.8,-33.2)(348.1,-30.4)(349.4,-31)(350.6,-31.5)(351.9,-29.9)(353.2,-28.8)(354.4,-28.3)(355.7,-31)(356.9,-32.6)(358.2,-31)(359.5,-29.3)(361,-21.2)(362.3,-29.9)(363.3,-34.2)(364.3,-34.2)(364.9,-33.2)};
\addplot[black] coordinates {(0,-19)(1,-21.7)(2.3,-32.1)(3.3,-34.2)(4.4,-31)(5.5,-25.5)(6.4,-31)(7.4,-32.1)(8.7,-32.1)(10.5,-33.2)(11.5,-31)(12.6,-29.3)(13.9,-33.2)(15.3,-35.9)(16.7,-34.2)(17.8,-31)(19.1,-27.7)(20.4,-15.2)(21.4,-22.3)(22.8,-25)(24.2,-25.5)(25.5,-28.8)(26.9,-30.4)(28.3,-31)(29.6,-32.1)(31,-31.5)(32.4,-32.1)(33.7,-34.2)(35.1,-34.8)(36.5,-29.9)(37.8,-32.1)(38.5,-33.7)(39.4,nan)(40.2,-33.7)(41.3,-33.7)(41.9,-25.5)(42.6,-16.8)(43.6,-10.3)(44.7,-14.7)(45.6,-19)(46.7,-22.3)(48.1,-25.5)(49.5,-23.2)(50.5,-20.7)(51.5,-31)(52.9,-33.2)(54.2,-34.8)(55.6,-26.6)(56.6,-26.6)(57.7,-28.8)(59,-27.7)(60.4,-28.3)(61.7,-28.8)(63.1,-26.6)(64.5,-25.5)(66.1,-24.5)(67.5,-16.8)(68.6,-12.5)(69.7,-11.4)(70.6,-10.3)(71.6,-6)(72.7,-15.8)(74,-22.3)(75.1,-25)(76.8,-12.5)(78.1,-15.8)(79.5,-23.4)(80.9,-25.5)(82.2,-27.7)(84.3,-28.8)(86.3,-29.9)(87.7,-28.3)(89.3,-27.7)(91.1,-27.2)(93.2,-26.6)(94.5,-25.5)(96.6,-25.5)(98,-23.4)(99.7,-18.5)(101.1,-19)(102.5,-20.7)(104.1,-20.7)(106.1,-21.7)(107.5,-23.4)(108.9,-17.9)(110.2,-9.2)(111.6,-7.6)(112.6,-14.7)(113.9,-12.5)(115.3,-13.6)(117.1,-14.7)(118.4,-16.3)(119.8,-17.9)(120.8,-16.3)(121.9,-13)(123.2,-13.6)(123.9,-15.8)(124.8,nan)(125.7,-14.1)(127,-14.7)(128.4,-12)(129.8,-9.2)(131.1,-13)(132.5,-10.9)(133.9,-11.4)(135.5,-10.9)(136.6,-9.2)(137.6,-8.2)(138.9,-7.9)(139.8,nan)(140.7,-8.7)(142.1,-3.3)(143.4,-0.5)(144.8,-1.6)(146.2,-3.8)(147.1,-5.4)(148,nan)(148.9,0)(150.3,2.2)(151.1,nan)(151.9,4.3)(153.3,2.7)(154.4,3.3)(155,nan)(155.7,1.6)(157.1,4.3)(158.7,2.2)(160.1,1.1)(161.5,0.5)(162.8,0.5)(164.2,0)(165.6,2.2)(166.9,2.2)(168.3,2.7)(169,nan)(169.7,6)(171,7.6)(172.4,5.4)(173.8,3.3)(175.3,nan)(176.8,9.8)(177.9,6)(179.7,3.8)(181,4.9)(182.3,3.3)(183.5,3.8)(184.8,6)(186.1,3.3)(187.3,5.4)(188.6,6)(189.9,5.4)(191.4,2.7)(193.3,nan)(195.2,3.8)(196.8,3.3)(198.1,4.9)(199.1,nan)(200.2,6)(201.9,7.1)(203.8,5.4)(205.7,7.6)(207.3,6)(209.1,8.7)(210.7,7.6)(212.3,9.2)(213.5,6.5)(214.2,4.3)(215.6,nan)(217.1,4.3)(218,3.8)(220.5,nan)(223.4,4.9)(224.7,5.4)(225.9,4.9)(227.8,4.3)(229.7,3.8)(231,3.8)(232.3,5.4)(233.5,7.6)(234.8,8.7)(236.1,9.2)(236.9,2.7)(238,2.7)(239.2,1.6)(241.1,0.5)(243,1.6)(244.3,0.5)(246.2,0)(248.1,-0.5)(250,-0.5)(251.3,-0.9)(252.5,0.5)(254.4,0)(256.3,2.2)(257.6,0)(258.8,-0.5)(260.1,0)(261.4,-1.1)(263.3,0.5)(265.2,2.7)(267.1,-0.5)(269,-0.5)(270.9,-1.1)(272.8,-2.7)(274,-0.5)(275.7,-3.8)(277.2,-2.7)(278.5,-1.1)(280.4,-3.3)(282.3,-0.5)(283.8,-2.2)(285.4,-1.6)(287.3,-4.9)(288.6,-3.3)(289.9,-1.6)(291.8,-2.2)(293.7,0)(294.9,-2.2)(296.4,-7.6)(297.5,-7.6)(298.7,-1.6)(300.2,-1.8)(301.5,-4.9)(303.2,-8.7)(304.4,-9.2)(305.7,-10.3)(307.3,-7.6)(308.6,-6)(309.9,-4.9)(311.4,-8.2)(312.6,-10.3)(313.9,-9.2)(315.8,-2.7)(317.1,-4.9)(318.3,-13.6)(319.6,-14.1)(320.9,-15.8)(322.1,-16.8)(323.4,-16.3)(324.7,-16.8)(325.9,-16.3)(327.2,-16.3)(328.5,-17.9)(329.7,-22.3)(331,-26.6)(332.3,-28.8)(333.5,-26.6)(334.4,-16.8)(335.4,-8.7)(336.7,-7.6)(338,-9.2)(338.6,-11.4)(339.9,-9.8)(341.1,-12)(342.4,-14.1)(343.7,-20.1)(344.9,-27.7)(346.6,-30.4)(348.1,-28.3)(349.4,-28.8)(350.6,-30.4)(351.9,-28.8)(353.2,-24.5)(354.4,-24.5)(355.7,-27.7)(356.9,-29.9)(358.5,-28.8)(359.7,-25.5)(361,-17.4)(362,-22.3)(363.3,-32.6)(364.3,-29.9)(364.9,-21.7)};
\addplot[tmax] coordinates {(0,-16.3)(1.4,-16.8)(2.7,-31)(3.7,-30.4)(5.1,-24.5)(6.4,-25.5)(7.4,-29.3)(9.2,-29.9)(10.5,-31)(12.3,-25)(13.7,-27.2)(15.3,-33.7)(16.7,-31)(17.8,-25.5)(19.1,-12)(20.4,-9.8)(21.4,-17.9)(22.8,-22.3)(24.2,-24.5)(26,-28.3)(27.3,-27.7)(29,-29.3)(31,-28.3)(32.4,-29.9)(34.4,-31.5)(36.5,-26.6)(38.5,-31)(39.4,nan)(40.2,-31.5)(41.3,-29.9)(42.6,-0.5)(43.6,-1.1)(44.7,-6)(46,-15.8)(47.4,-23.4)(49.5,-20.1)(50.8,-19)(51.9,-28.8)(53.3,-31)(54.6,-33.2)(56,-20.1)(57,-25.5)(57.9,-25.5)(59.3,-26.1)(60.7,-26.1)(62,-24.5)(63.4,-22.3)(65.2,-22.3)(66.5,-15.8)(67.5,-10.3)(69.3,-6)(70.6,-5.8)(71.6,0.5)(73,-13.6)(74,-21.2)(75.1,-23.4)(76.8,-9.8)(78.1,-11.4)(79.5,-19)(80.9,-21.2)(82.2,-25.5)(84.3,-26.6)(86.3,-26.1)(87.7,-24.5)(89.1,-23.9)(91.1,-23.9)(93.2,-23.9)(95.2,-23.4)(97.3,-21.2)(98.6,-17.9)(100,-15.2)(101.6,-16.8)(103.4,-16.8)(105.5,-16.8)(107.1,-20.1)(108.5,-15.8)(110.2,-6)(111.6,-2.7)(113,-11.4)(114.3,-9.2)(115.7,-10.3)(117.1,-11.4)(118.4,-13.6)(119.8,-14.7)(120.8,-8.7)(122.1,-9.2)(123.9,-12.5)(124.8,nan)(125.7,-12)(127,-13)(128.4,-10.3)(130.1,-5.4)(131.4,-9.2)(132.8,-8.2)(134.4,-7.6)(136.2,-7.6)(137.6,-5.4)(138.9,-4.9)(139.8,nan)(140.7,-5.4)(142.1,0.5)(143.7,0.8)(145.1,0.5)(146.4,-0.5)(147.6,nan)(148.5,4.3)(149.9,4.9)(150.8,nan)(151.6,6)(153.3,5.4)(154.4,7.1)(155,nan)(155.7,5.4)(157.1,8.2)(158.7,3.8)(160.1,2.2)(161.7,3.3)(163.1,0.5)(164.9,3.3)(166.3,2.2)(168.3,5.4)(169,nan)(169.7,10.9)(171,12)(172.4,6)(173.1,10.3)(174,7.1)(175.3,nan)(176.8,15.2)(177.2,9.8)(178.5,9.2)(179.5,7.6)(181,6)(182.3,7.6)(183.5,8.2)(184.8,9.8)(186.1,7.1)(187.3,7.6)(188.6,10.9)(189.9,10.3)(191.4,6)(193.3,nan)(195.2,6.5)(196.8,6)(198.1,7.6)(199.1,nan)(200.2,9.8)(201.9,9.8)(203.5,7.6)(205.1,9.8)(206.3,12)(207.8,7.6)(209.5,13.3)(210.7,10.3)(212.3,14.7)(213.5,8.7)(214.5,6.5)(215.6,nan)(217.1,7.6)(218,6)(220.5,nan)(223.4,7.6)(224.7,7.1)(225.9,7.6)(227.6,7.6)(229.1,7.1)(231,6.5)(232.3,6)(233.5,8.2)(234.8,10.9)(235.4,10.9)(236.3,16)(237.3,4.3)(238.6,4.3)(240.5,2.2)(242,2.2)(243.7,4.3)(245.6,1.6)(247.5,2.2)(249.4,2.2)(251.3,2.7)(253.2,2.2)(255.1,2.7)(256.3,3.8)(258.2,1.6)(260.1,1.6)(261.4,1.1)(262.6,2.7)(263.9,3.3)(265.2,4.9)(267.1,1.6)(269,1.6)(270.9,0.5)(272.8,0.5)(274.4,1.6)(275.7,-0.5)(277.8,1.6)(279.7,-0.5)(281.6,1.6)(283.5,0.5)(285.4,-0.5)(287.3,-1.6)(289.2,0.5)(291.1,0.5)(293,1.6)(294.9,-1.1)(296.8,-3.8)(298.1,0)(299.7,1.1)(301.3,-2.2)(302.5,-6.5)(304.4,-7.1)(306.3,-4.9)(307.6,-2.7)(308.8,-3.3)(310.1,-2.7)(311.4,-6)(313.3,-7.6)(314.5,-3.8)(315.8,-0.5)(317.7,-2.2)(319,-10.3)(320.3,-12.5)(321.5,-13.6)(323,-13.6)(324.7,-13.6)(326.3,-14.7)(327.8,-13)(329.1,-17.9)(330.4,-23.4)(331.9,-25.5)(333.5,-25.5)(334.8,-9.2)(335.4,-5.4)(336.7,-6.5)(338,-6.5)(339.2,-4.9)(340.5,-10.3)(341.8,-11.4)(343,-15.8)(344.3,-23.4)(345.8,-27.7)(347.1,-25.5)(348.4,-26.6)(349.4,-27.7)(350.6,-26.6)(351.9,-24.5)(353.2,-20.1)(354.4,-20.7)(355.7,-23.4)(356.9,-27.2)(358.5,-25.5)(359.7,-20.1)(360.7,-14.1)(362,-20.7)(363.5,-28.8)(364.6,-10.3)};
\end{axis}
% ---------------- annotations ----------------
\node[anchor=base, inner sep=0pt, text=lab, font=\fontsize{17pt}{20pt}\selectfont\bfseries] at (522pt,-1271.25pt) {Date};
\node[anchor=base west, inner sep=0pt, text=lab, font=\ticksize\itshape] at (76.5pt,-1287.5pt) {Note: Gaps indicate missing data.};
\draw[draw=black!80, line width=0.8pt] (734.25pt,-1345pt) -- (734.25pt,-1263.75pt) -- (974.25pt,-1263.75pt) -- (974.25pt,-1345pt);
\draw[tmin, line width=1.9pt] (748.3pt,-1280pt) -- (771.3pt,-1280pt);
\draw[black, line width=1.9pt] (748.3pt,-1301.25pt) -- (771.3pt,-1301.25pt);
\draw[tmax, line width=1.9pt] (748.3pt,-1321.7pt) -- (771.3pt,-1321.7pt);
\node[anchor=west, inner sep=0pt, text=lab, font=\ticksize] at (779.25pt,-1280pt) {Daily Min. Temp. (°C)};
\node[anchor=west, inner sep=0pt, text=lab, font=\ticksize] at (779.25pt,-1301.25pt) {Daily Mean Temp. (°C)};
\node[anchor=west, inner sep=0pt, text=lab, font=\ticksize] at (779.25pt,-1321.7pt) {Daily Max. Temp. (°C)};
\foreach \a in {55,65,...,125} {
  \draw[logo, line width=1pt] ($(23.25pt,-1359pt)+(\a:24pt)$) -- ($(23.25pt,-1359pt)+(\a:31.5pt)$);
}
\end{tikzpicture}
\end{document}
